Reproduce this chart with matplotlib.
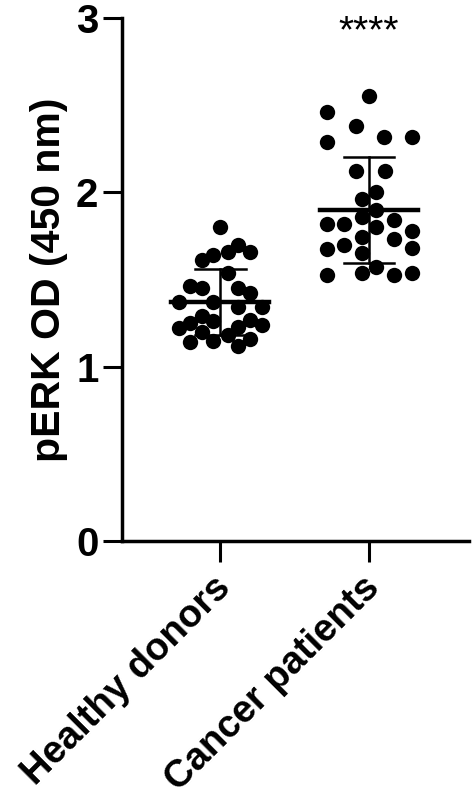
import matplotlib
matplotlib.use("Agg")
import matplotlib.pyplot as plt
import matplotlib.transforms as mtransforms
import numpy as np

plt.rcParams['font.family'] = ['Liberation Sans', 'DejaVu Sans']
plt.rcParams['font.weight'] = 'bold'

# groups
groups = ['Healthy donors', 'Cancer patients']

# values (pERK OD at 450 nm)
healthy = [1.80, 1.70, 1.66, 1.66, 1.64, 1.61, 1.54, 1.46, 1.45, 1.45,
           1.42, 1.37, 1.37, 1.34, 1.34, 1.29, 1.26, 1.25, 1.22, 1.27,
           1.24, 1.23, 1.20, 1.18, 1.16, 1.15, 1.14, 1.12]
healthy_dx = [0.00, 0.12, 0.20, 0.05, -0.05, -0.12, 0.05, -0.20, -0.12, 0.12,
              0.20, -0.28, -0.05, 0.12, 0.28, -0.12, -0.05, -0.20, -0.28, 0.20,
              0.28, 0.12, -0.12, 0.05, 0.20, -0.05, -0.20, 0.12]

cancer = [2.55, 2.46, 2.38, 2.29, 2.32, 2.32, 2.12, 2.12, 2.00, 1.96,
          1.90, 1.86, 1.82, 1.82, 1.84, 1.80, 1.78, 1.745, 1.73, 1.675,
          1.70, 1.68, 1.65, 1.57, 1.525, 1.54, 1.525, 1.54]
cancer_dx = [0.00, -0.28, -0.09, -0.28, 0.10, 0.29, -0.09, 0.11, 0.05, -0.05,
             0.05, -0.05, -0.28, -0.17, 0.17, 0.05, 0.29, -0.05, 0.17, -0.28,
             -0.17, 0.29, -0.05, 0.05, -0.28, -0.05, 0.17, 0.29]

# mean and SD as drawn
means = [1.373, 1.90]
sds = [0.19, 0.305]

fig = plt.figure(figsize=(4.73, 8.0), dpi=100)
ax = fig.add_axes([0.258, 0.32375, 0.733, 0.65375])

for i, (vals, dx) in enumerate([(healthy, healthy_dx), (cancer, cancer_dx)]):
    ax.scatter(np.array(dx) + i, vals, s=122, color='black', zorder=3, linewidths=0)
    ax.plot([i - 0.33, i + 0.33], [means[i]] * 2, color='black', lw=3.2, zorder=4)
    ax.plot([i, i], [means[i] - sds[i], means[i] + sds[i]], color='black', lw=1.8, zorder=4)
    for y in (means[i] - sds[i], means[i] + sds[i]):
        ax.plot([i - 0.17, i + 0.17], [y, y], color='black', lw=1.8, zorder=4)

ax.text(1, 2.92, '****', ha='center', va='center', fontsize=28, fontweight='normal')

ax.set_xlim(-0.66, 1.67)
ax.set_ylim(0, 3)
ax.set_yticks([0, 1, 2, 3])
ax.set_xticks([0, 1])
ax.set_xticklabels(groups, rotation=45, ha='right', rotation_mode='anchor',
                   fontsize=27.5, fontweight='bold')
ax.tick_params(axis='y', labelsize=29, length=14, width=2.2, pad=3)
ax.tick_params(axis='x', length=15, width=2.2, pad=2)
ax.set_ylabel('pERK OD (450 nm)', fontsize=29.5, fontweight='bold', labelpad=6)

# nudge the slanted labels a little left/down like the original
shift = mtransforms.ScaledTranslation(-8 / 100, -5 / 100, fig.dpi_scale_trans)
for lbl in ax.get_xticklabels():
    lbl.set_transform(lbl.get_transform() + shift)

for s in ['top', 'right']:
    ax.spines[s].set_visible(False)
for s in ['left', 'bottom']:
    ax.spines[s].set_linewidth(2.5)

fig.savefig('out.png', dpi=100)
